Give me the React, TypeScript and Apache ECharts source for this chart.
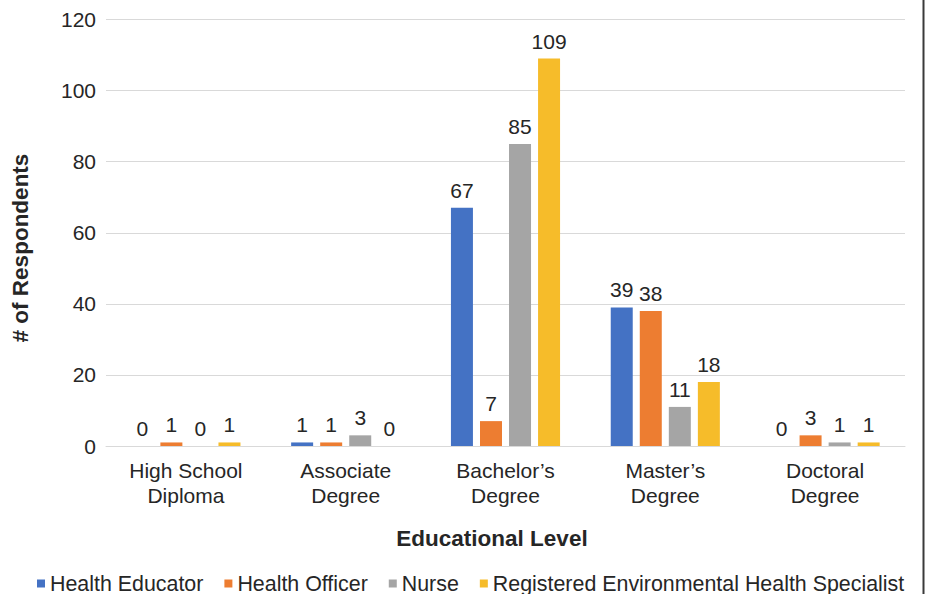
import React, { useEffect, useRef } from "react";
import * as echarts from "echarts";

const categories = [
  "High School\nDiploma",
  "Associate\nDegree",
  "Bachelor’s\nDegree",
  "Master’s\nDegree",
  "Doctoral\nDegree",
];
const healthEducator = [0, 1, 67, 39, 0];
const healthOfficer = [1, 1, 7, 38, 3];
const nurse = [0, 3, 85, 11, 1];
const rehs = [1, 0, 109, 18, 1];

const seriesNames = [
  "Health Educator",
  "Health Officer",
  "Nurse",
  "Registered Environmental Health Specialist",
];
const seriesColors = ["#4472c4", "#ed7d31", "#a5a5a5", "#f6bc2a"];

const FONT = "'Liberation Sans', Arial, sans-serif";
const TEXT = "#262626";
const FS = 21;

export default function App() {
  const ref = useRef<HTMLDivElement>(null);

  useEffect(() => {
    if (!ref.current) return;
    const chart = echarts.init(ref.current, null, { renderer: "svg" });
    const data = [healthEducator, healthOfficer, nurse, rehs];
    chart.setOption({
      animation: false,
      textStyle: { fontFamily: FONT, color: TEXT },
      grid: { left: 106, right: 22, top: 19.5, bottom: 148, containLabel: false },
      legend: {
        data: seriesNames,
        top: 573,
        left: 37,
        padding: 0,
        itemWidth: 8,
        itemHeight: 8,
        itemGap: 21,
        icon: "rect",
        textStyle: { fontSize: 21.4, color: TEXT, fontFamily: FONT },
      },
      xAxis: {
        type: "category",
        data: categories,
        axisTick: { show: false },
        axisLine: { lineStyle: { color: "#d9d9d9", width: 1 } },
        axisLabel: {
          fontSize: FS,
          color: TEXT,
          lineHeight: 25,
          margin: 12,
          interval: 0,
        },
      },
      yAxis: {
        type: "value",
        min: 0,
        max: 120,
        interval: 20,
        axisLine: { show: false },
        axisTick: { show: false },
        axisLabel: { fontSize: FS, color: TEXT, margin: 10 },
        splitLine: { lineStyle: { color: "#d9d9d9", width: 1 } },
      },
      graphic: [
        {
          type: "text",
          x: 20,
          y: 248,
          rotation: Math.PI / 2,
          style: {
            text: "# of Respondents",
            fill: TEXT,
            font: `bold 22.5px ${FONT}`,
            textAlign: "center",
            textVerticalAlign: "middle",
          },
        },
        {
          type: "text",
          x: 492,
          y: 538,
          style: {
            text: "Educational Level",
            fill: TEXT,
            font: `bold 22.5px ${FONT}`,
            textAlign: "center",
            textVerticalAlign: "middle",
          },
        },
        {
          type: "rect",
          shape: { x: 922.5, y: 0, width: 2, height: 594 },
          style: { fill: "#3a3a3a" },
        },
      ],
      series: data.map((values, i) => ({
        name: seriesNames[i],
        type: "bar",
        data: values,
        barWidth: 22,
        barGap: "32%",
        itemStyle: { color: seriesColors[i] },
        label: {
          show: true,
          position: "top",
          distance: 7,
          fontSize: FS,
          color: TEXT,
          fontFamily: FONT,
        },
      })),
    });
    return () => chart.dispose();
  }, []);

  return (
    <div
      ref={ref}
      style={{ position: "absolute", left: 0, top: 0, width: 927, height: 594 }}
    />
  );
}
